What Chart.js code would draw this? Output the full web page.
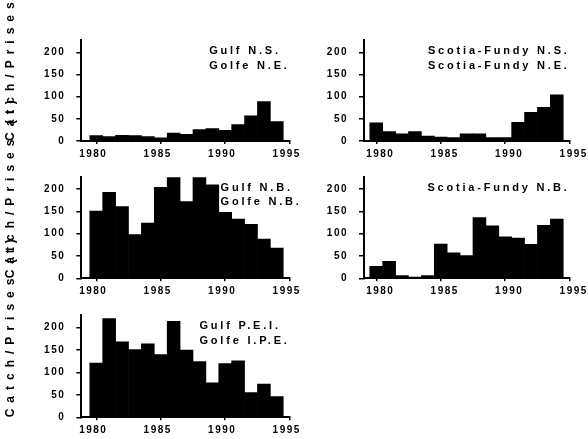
<!DOCTYPE html>
<html lang="en">
<head>
<meta charset="UTF-8">
<title>Catch / Prises by region, 1980-1994</title>
<style>
  html, body { margin: 0; padding: 0; background: #fff; }
  #figure { position: relative; width: 588px; height: 439px; }
  #figure canvas { position: absolute; left: 0; top: 0; }
</style>
</head>
<body>
<div id="figure">
  <canvas id="gulfNS" width="588" height="439"></canvas>
  <canvas id="scotiaNS" width="588" height="439"></canvas>
  <canvas id="gulfNB" width="588" height="439"></canvas>
  <canvas id="scotiaNB" width="588" height="439"></canvas>
  <canvas id="gulfPEI" width="588" height="439"></canvas>
</div>

<script src="https://cdn.jsdelivr.net/npm/chart.js@4.4.2/dist/chart.umd.min.js"></script>
<script>
// data (tonnes per year)
const years = [1980, 1981, 1982, 1983, 1984, 1985, 1986, 1987, 1988, 1989, 1990, 1991, 1992, 1993, 1994];
const yearTicks = [1980, 1985, 1990, 1995];
const catchTicks = [0, 50, 100, 150, 200];

const gulfNS   = [12, 10, 13, 12, 10, 7, 18, 15, 26, 28, 24, 37, 57, 89, 44];
const scotiaNS = [41, 21, 16, 21, 11, 9, 8, 16, 16, 8, 8, 42, 65, 76, 104];
const gulfNB   = [151, 193, 161, 98, 124, 204, 226, 172, 226, 210, 148, 133, 121, 88, 68];
const scotiaNB = [27, 38, 6, 3, 6, 77, 57, 51, 136, 118, 93, 90, 76, 119, 133];
const gulfPEI  = [121, 220, 168, 151, 164, 140, 214, 150, 124, 77, 120, 126, 55, 74, 46];

const yTitle = 'Catch/Prises (t)';

const FONT = "'Liberation Sans', Arial, sans-serif";
const X_AXIS_H = 20;

// the scanned original uses widely spaced lettering
function spaceOut(scale, labelPx, titlePx) {
  if (scale._spaced) return;
  scale._spaced = true;
  const wrap = (name, px) => {
    const draw = scale[name];
    scale[name] = function () {
      const ctx = this.ctx;
      ctx.save();
      ctx.letterSpacing = px + 'px';
      draw.apply(this, arguments);
      ctx.restore();
    };
  };
  wrap('drawLabels', labelPx);
  wrap('drawTitle', titlePx);
}

// region names in the upper right of each panel
const panelLabels = {
  id: 'panelLabels',
  afterDatasetsDraw(chart, args, opts) {
    const { ctx, chartArea } = chart;
    const lines = opts.lines || [];
    ctx.save();
    ctx.font = 'bold 11px ' + FONT;
    ctx.letterSpacing = '2.8px';
    ctx.fillStyle = '#000';
    ctx.textBaseline = 'middle';
    ctx.textAlign = 'left';
    const w = Math.max(...lines.map(l => ctx.measureText(l).width));
    const x = chartArea.right - w + (opts.dx || 0);
    lines.forEach((l, i) => ctx.fillText(l, x, chartArea.top + 11 + i * 14.5));
    ctx.restore();
  }
};

function panel(id, values, lines, area, leftColumn, dx) {
  const yW = leftColumn ? 78 : 40;
  return new Chart(document.getElementById(id), {
    type: 'bar',
    data: {
      datasets: [{
        data: years.map((y, i) => ({ x: y, y: values[i] })),
        backgroundColor: '#000',
        borderWidth: 0,
        barPercentage: 1,
        categoryPercentage: 1
      }]
    },
    options: {
      responsive: false,
      animation: false,
      devicePixelRatio: 1,
      layout: {
        padding: {
          left: area.left - yW,
          top: area.top,
          right: 588 - area.right,
          bottom: 439 - area.bottom - X_AXIS_H
        }
      },
      plugins: {
        legend: { display: false },
        tooltip: { enabled: false },
        panelLabels: { lines: lines, dx: dx || 0 }
      },
      scales: {
        x: {
          type: 'linear',
          min: leftColumn ? 1978.84 : 1979.05,
          max: 1995,
          offset: false,
          afterBuildTicks: s => { s.ticks = yearTicks.map(v => ({ value: v })); },
          afterFit: s => { s.height = X_AXIS_H; spaceOut(s, 1.5, 0); },
          grid: { offset: false, drawOnChartArea: false, tickLength: 3, color: '#000', lineWidth: 1.5 },
          border: { color: '#000', width: 2 },
          ticks: {
            color: '#000',
            font: { family: FONT, size: 10, weight: 'bold' },
            padding: 4,
            labelOffset: leftColumn ? -3 : 4,
            maxRotation: 0,
            autoSkip: false,
            callback: v => String(v)
          }
        },
        y: {
          min: 0,
          max: 228,
          afterBuildTicks: s => { s.ticks = catchTicks.map(v => ({ value: v })); },
          afterFit: s => { s.width = yW; spaceOut(s, 1.5, 6); },
          grid: { drawOnChartArea: false, tickLength: 5, color: '#000', lineWidth: 1.5 },
          border: { color: '#000', width: 2 },
          ticks: {
            color: '#000',
            font: { family: FONT, size: 10, weight: 'bold' },
            padding: 11
          },
          title: {
            display: leftColumn,
            text: yTitle,
            align: 'start',
            color: '#000',
            font: { family: FONT, size: 12, weight: 'bold' },
            padding: { top: 0, bottom: 0 }
          }
        }
      }
    },
    plugins: [panelLabels]
  });
}

panel('gulfNS', gulfNS, ['Gulf N.S.', 'Golfe N.E.'], { left: 81.3, top: 40, right: 289.7, bottom: 141 }, true);
panel('scotiaNS', scotiaNS, ['Scotia-Fundy N.S.', 'Scotia-Fundy N.E.'], { left: 364, top: 40, right: 569.7, bottom: 141 }, false);
panel('gulfNB', gulfNB, ['Gulf N.B.', 'Golfe N.B.'], { left: 81.3, top: 176.7, right: 289.7, bottom: 278.3 }, true, 12);
panel('scotiaNB', scotiaNB, ['Scotia-Fundy N.B.'], { left: 364, top: 176.7, right: 569.7, bottom: 278.3 }, false);
panel('gulfPEI', gulfPEI, ['Gulf P.E.I.', 'Golfe I.P.E.'], { left: 81.3, top: 315, right: 289.7, bottom: 417.3 }, true);
</script>
</body>
</html>
